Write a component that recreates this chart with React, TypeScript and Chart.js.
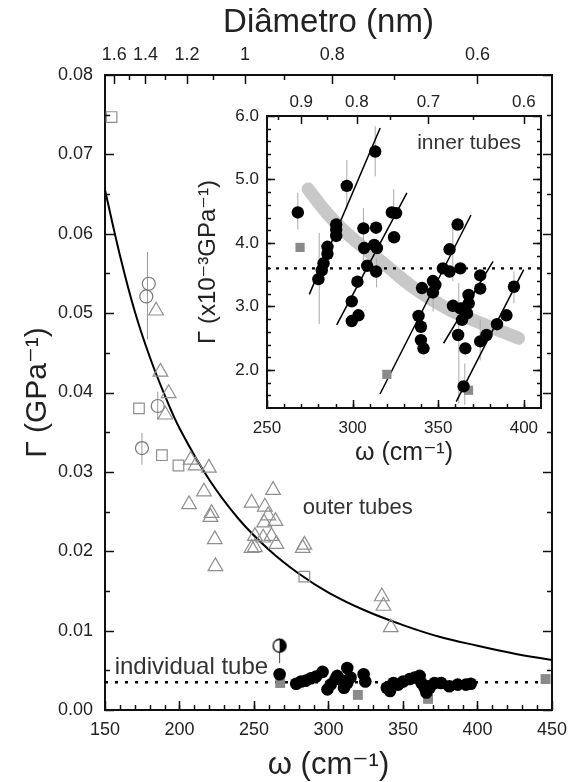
import React, { useEffect, useRef } from 'react';
import { Chart, registerables } from 'chart.js';
Chart.register(...registerables);

const FONT = "'Liberation Sans', Arial, 'DejaVu Sans', sans-serif";
const TXT = '#222';

// ---------- main chart data ----------
const curveW = [150, 160, 170, 180, 190, 200, 220, 240, 260, 280, 300, 325, 350, 375, 400, 425, 450];
const curveG = [0.0655, 0.0573, 0.0502, 0.0445, 0.0397, 0.0355, 0.029, 0.024, 0.0202, 0.0172, 0.0148, 0.0125, 0.0107, 0.0092, 0.0081, 0.0071, 0.0063];

const dottedMainW = [150, 450];
const dottedMainG = [0.0035, 0.0035];

const indW = [267.2, 278.3, 281.6, 284.9, 288.2, 291.6, 296.0, 299.3, 301.5, 304.8, 305.9, 309.2, 310.4, 312.6, 312.6, 314.8, 323.6, 324.7, 339.1, 341.3, 343.6, 346.8, 350.1, 354.6, 357.9, 361.2, 362.4, 364.5, 365.7, 366.8, 367.9, 371.2, 375.6, 381.1, 386.7, 392.2, 395.5];
const indG = [0.0045, 0.0033, 0.0036, 0.0037, 0.004, 0.0042, 0.0048, 0.0026, 0.0032, 0.0039, 0.0043, 0.0037, 0.0028, 0.0053, 0.0034, 0.0041, 0.0045, 0.0036, 0.0028, 0.0024, 0.0034, 0.0032, 0.0036, 0.0039, 0.0041, 0.0043, 0.0034, 0.0028, 0.0022, 0.003, 0.0028, 0.0034, 0.0034, 0.003, 0.0032, 0.0032, 0.0033];

const triW = [184.3, 187.2, 192.7, 190.5, 207.5, 210.8, 219.7, 216.4, 206.4, 221.5, 220.8, 223.7, 224.1, 262.8, 248.4, 257.3, 259.5, 256.8, 264.4, 250.6, 256.2, 261.7, 265.0, 248.4, 250.6, 283.8, 282.7, 335.8, 336.9, 341.8];
const triG = [0.0503, 0.0426, 0.0399, 0.0372, 0.0315, 0.0308, 0.0305, 0.0275, 0.0259, 0.0248, 0.0243, 0.0215, 0.0181, 0.0277, 0.0261, 0.0256, 0.0245, 0.0236, 0.0238, 0.0219, 0.0217, 0.0219, 0.0209, 0.0204, 0.0205, 0.0208, 0.0204, 0.0143, 0.0131, 0.0104];

const sqW = [154.4, 172.8, 188.2, 199.3, 283.8];
const sqG = [0.0747, 0.038, 0.0321, 0.0308, 0.0168];

const circW = [179.4, 177.7, 185.4, 174.8];
const circG = [0.0537, 0.0521, 0.0383, 0.033];

const errW = [178.5, 185.4, 174.8];
const errLo = [0.0467, 0.0366, 0.0309];
const errHi = [0.0577, 0.0401, 0.0349];

const halfW = [267.2];
const halfG = [0.0081];
const halfErrLo = [0.0059];
const halfErrHi = [0.009];

const graySqW = [267.6, 319.7, 366.8, 445.7];
const graySqG = [0.0034, 0.0019, 0.0014, 0.0039];

const omegaTicks = [150, 200, 250, 300, 350, 400, 450];
const gammaTicks = [0, 0.01, 0.02, 0.03, 0.04, 0.05, 0.06, 0.07, 0.08];
const diamMain = [1.6, 1.4, 1.2, 1.0, 0.8, 0.6];
const diamMainText = ['1.6', '1.4', '1.2', '1', '0.8', '0.6'];
const diamMainMinor = [1.5, 1.3, 1.1, 0.9, 0.7];

// ---------- inset data ----------
const inW = [268, 280, 282, 283, 285.3, 285.3, 290.4, 290.4, 290.4, 296.6, 313.2, 306.3, 313.7, 306.7, 312.6, 314.2, 308.5, 313.7, 302.8, 299.5, 299.5, 303.4, 322.9, 325.4, 324.2, 361.3, 356.6, 352.7, 356.6, 362.9, 340.5, 346.9, 348.3, 346.9, 338.5, 339.9, 339.9, 341.4, 358.6, 362.9, 364.8, 367.8, 367.7, 366.8, 363.9, 361.6, 365.8, 364.8, 374.5, 374.5, 374.5, 378.2, 384.3, 389.8, 394.2];
const inG = [4.48, 3.43, 3.57, 3.68, 3.83, 3.94, 4.11, 4.21, 4.29, 4.9, 5.44, 4.23, 4.24, 3.92, 3.97, 3.92, 3.64, 3.55, 3.39, 3.08, 2.77, 2.86, 4.48, 4.47, 4.09, 4.29, 3.9, 3.6, 3.55, 3.6, 3.29, 3.4, 3.34, 3.22, 2.85, 2.68, 2.47, 2.34, 3.01, 2.97, 2.97, 3.05, 3.18, 2.89, 2.79, 2.55, 2.34, 1.74, 3.49, 3.28, 2.45, 2.55, 2.72, 2.86, 3.31];

const inSqW = [269.3, 320, 367.7];
const inSqG = [3.93, 1.93, 1.68];

const fitW0 = [274.7, 290.7, 316, 353.1, 360.5];
const fitG0 = [3.19, 2.71, 1.62, 2.42, 1.5];
const fitW1 = [316.1, 331.7, 369.1, 382, 399.9];
const fitG1 = [5.81, 4.79, 4.44, 3.71, 3.58];

const inErrW = [268, 280.5, 296.6, 313.2, 306.3, 314, 358.5, 362, 365.5, 374.5, 394.2, 347, 324];
const inErrLo = [4.21, 2.72, 4.52, 5.05, 3.55, 3.3, 3.4, 1.47, 1.45, 2.15, 3.05, 2.92, 4.45];
const inErrHi = [4.79, 4.16, 5.31, 5.84, 4.55, 3.75, 4.25, 3.37, 2.1, 2.79, 3.55, 3.31, 4.85];

const bandW = [274, 285, 296.6, 318, 337.5, 357, 376.5, 396.9];
const bandG = [4.85, 4.47, 4.15, 3.68, 3.26, 2.94, 2.72, 2.5];

const dottedInW = [250, 410];
const dottedInG = [3.6, 3.6];

const inOmegaTicks = [250, 300, 350, 400];
const inGammaTicks = [2, 3, 4, 5, 6];
const diamIn = [0.9, 0.8, 0.7, 0.6];
const diamInText = ['0.9', '0.8', '0.7', '0.6'];
const diamInMinor = [0.95, 0.85, 0.75, 0.65];

// RBM relation used for the secondary (diameter) axis
const dToW = (d: number) => 234 / d + 10;

const pts = (xs: number[], ys: number[]) => xs.map((x, i) => ({ x, y: ys[i] }));
const segs = (xs0: number[], ys0: number[], xs1: number[], ys1: number[]) =>
  xs0.flatMap((x, i) => [{ x, y: ys0[i] }, { x: xs1[i], y: ys1[i] }, { x: xs1[i], y: null as any }]);
const range = (a: number, b: number, s: number) => {
  const out: number[] = [];
  for (let v = a; v <= b + 1e-9; v += s) out.push(Math.round(v * 10000) / 10000);
  return out;
};

type TickSpec = { scale: string; side: 'top' | 'bottom' | 'left' | 'right'; values: number[]; len: number };
function tickPlugin(specs: TickSpec[], width: number) {
  return {
    id: 'inwardTicks',
    afterDatasetsDraw(chart: any) {
      const { ctx, chartArea: a, scales } = chart;
      ctx.save();
      ctx.strokeStyle = '#111';
      ctx.lineWidth = width;
      for (const s of specs) {
        const sc = scales[s.scale];
        for (const v of s.values) {
          const p = Math.round(sc.getPixelForValue(v)) + 0.5;
          ctx.beginPath();
          if (s.side === 'bottom') { ctx.moveTo(p, a.bottom); ctx.lineTo(p, a.bottom - s.len); }
          if (s.side === 'top') { ctx.moveTo(p, a.top); ctx.lineTo(p, a.top + s.len); }
          if (s.side === 'left') { ctx.moveTo(a.left, p); ctx.lineTo(a.left + s.len, p); }
          if (s.side === 'right') { ctx.moveTo(a.right, p); ctx.lineTo(a.right - s.len, p); }
          ctx.stroke();
        }
      }
      ctx.restore();
    },
  };
}

type TextItem = { text: string; x: number; y: number; size: number };
function textPlugin(items: TextItem[]) {
  return {
    id: 'textLabels',
    afterDatasetsDraw(chart: any) {
      const { ctx, scales } = chart;
      ctx.save();
      ctx.fillStyle = '#333';
      ctx.textAlign = 'left';
      ctx.textBaseline = 'middle';
      for (const t of items) {
        ctx.font = `${t.size}px ${FONT}`;
        ctx.fillText(t.text, scales.x.getPixelForValue(t.x), scales.y.getPixelForValue(t.y));
      }
      ctx.restore();
    },
  };
}

const whiteArea = {
  id: 'whiteArea',
  beforeDraw(chart: any) {
    const { ctx, chartArea: a } = chart;
    ctx.save();
    ctx.fillStyle = '#fff';
    ctx.fillRect(a.left, a.top, a.right - a.left, a.bottom - a.top);
    ctx.restore();
  },
};

const border = { color: '#111', width: 2 };
const grid = { display: false, drawTicks: false };
const tickFont = (size: number) => ({ family: FONT, size });

function halfCircle(r: number) {
  const c = document.createElement('canvas');
  const s = Math.ceil(2 * r + 3);
  c.width = s; c.height = s;
  const g = c.getContext('2d')!;
  g.fillStyle = '#fff';
  g.beginPath(); g.arc(s / 2, s / 2, r, 0, Math.PI * 2); g.fill();
  g.fillStyle = '#000';
  g.beginPath(); g.arc(s / 2, s / 2, r, -Math.PI / 2, Math.PI / 2); g.closePath(); g.fill();
  g.strokeStyle = '#000'; g.lineWidth = 1.3;
  g.beginPath(); g.arc(s / 2, s / 2, r, 0, Math.PI * 2); g.stroke();
  return c;
}

function mainConfig(): any {
  const gray = '#8f8f8f';
  return {
    type: 'scatter',
    data: {
      datasets: [
        { data: pts(halfW, halfG), pointStyle: halfCircle(6.5), pointRadius: 7, order: 0 },
        { data: pts(indW, indG), pointStyle: 'circle', pointRadius: 6.3, backgroundColor: '#000', borderColor: '#000', borderWidth: 0, order: 1 },
        { data: pts(graySqW, graySqG), pointStyle: 'rect', pointRadius: 7, backgroundColor: '#8a8a8a', borderColor: '#8a8a8a', borderWidth: 0, order: 2 },
        { data: pts(triW, triG), pointStyle: 'triangle', pointRadius: 8.5, backgroundColor: 'rgba(0,0,0,0)', borderColor: gray, borderWidth: 1.2, order: 3 },
        { data: pts(sqW, sqG), pointStyle: 'rect', pointRadius: 7.5, backgroundColor: 'rgba(0,0,0,0)', borderColor: gray, borderWidth: 1.2, order: 4 },
        { data: pts(circW, circG), pointStyle: 'circle', pointRadius: 6.5, backgroundColor: 'rgba(0,0,0,0)', borderColor: '#777', borderWidth: 1.2, order: 5 },
        { data: segs(errW, errLo, errW, errHi), showLine: true, spanGaps: false, pointRadius: 0, borderColor: '#999', borderWidth: 1, order: 6 },
        { data: segs(halfW, halfErrLo, halfW, halfErrHi), showLine: true, spanGaps: false, pointRadius: 0, borderColor: '#444', borderWidth: 1, order: 6 },
        { data: pts(curveW, curveG), showLine: true, pointRadius: 0, borderColor: '#000', borderWidth: 2, tension: 0.4, order: 7 },
        { data: pts(dottedMainW, dottedMainG), showLine: true, pointRadius: 0, borderColor: '#000', borderWidth: 2.5, borderDash: [3, 7], order: 8 },
      ],
    },
    options: {
      responsive: false,
      animation: false,
      devicePixelRatio: 1,
      layout: { padding: 0 },
      plugins: { legend: { display: false }, tooltip: { enabled: false } },
      scales: {
        x: {
          type: 'linear', position: 'bottom', min: 150, max: 450,
          grid, border,
          afterBuildTicks: (s: any) => { s.ticks = omegaTicks.map((v) => ({ value: v })); },
          ticks: { font: tickFont(18), color: TXT, padding: 9, autoSkip: false, maxRotation: 0 },
          title: { display: true, text: 'ω (cm⁻¹)', font: { family: FONT, size: 31, lineHeight: 1 }, color: TXT, padding: { top: 0, bottom: 1 } },
          afterFit: (s: any) => { s.height = 72; },
        },
        xTop: {
          type: 'linear', position: 'top', min: 150, max: 450,
          grid, border,
          afterBuildTicks: (s: any) => { s.ticks = diamMain.map((d) => ({ value: dToW(d) })); },
          ticks: { font: tickFont(18), color: TXT, padding: 9, autoSkip: false, maxRotation: 0, callback: (_v: any, i: number) => diamMainText[i] },
          title: { display: true, text: 'Diâmetro (nm)', font: { family: FONT, size: 33, lineHeight: 1 }, color: TXT, padding: { top: 6, bottom: 0 } },
          afterFit: (s: any) => { s.height = 75; },
        },
        y: {
          type: 'linear', position: 'left', min: 0, max: 0.08,
          grid, border,
          afterBuildTicks: (s: any) => { s.ticks = gammaTicks.map((v) => ({ value: v })); },
          ticks: { font: tickFont(18), color: TXT, padding: 12, autoSkip: false, callback: (v: any) => Number(v).toFixed(2) },
          title: { display: true, text: 'Γ (GPa⁻¹)', font: { family: FONT, size: 30, lineHeight: 1 }, color: TXT, padding: { top: 23, bottom: 0 } },
          afterFit: (s: any) => { s.width = 105; },
        },
        yRight: {
          type: 'linear', position: 'right', min: 0, max: 0.08,
          grid, border,
          ticks: { display: false },
          afterFit: (s: any) => { s.width = 19; },
        },
      },
    },
    plugins: [
      tickPlugin([
        { scale: 'x', side: 'bottom', values: omegaTicks, len: 9 },
        { scale: 'x', side: 'bottom', values: range(160, 440, 10), len: 5 },
        { scale: 'xTop', side: 'top', values: diamMain.map(dToW), len: 9 },
        { scale: 'xTop', side: 'top', values: diamMainMinor.map(dToW), len: 5 },
        { scale: 'y', side: 'left', values: gammaTicks, len: 9 },
        { scale: 'y', side: 'left', values: range(0.005, 0.075, 0.01), len: 5 },
        { scale: 'yRight', side: 'right', values: gammaTicks, len: 9 },
        { scale: 'yRight', side: 'right', values: range(0.005, 0.075, 0.01), len: 5 },
      ], 1.5),
      textPlugin([
        { text: 'individual tube', x: 156.5, y: 0.0054, size: 24 },
        { text: 'outer tubes', x: 282.7, y: 0.0254, size: 22 },
      ]),
    ],
  };
}

function insetConfig(): any {
  return {
    type: 'scatter',
    data: {
      datasets: [
        { data: pts(inW, inG), pointStyle: 'circle', pointRadius: 6.2, backgroundColor: '#000', borderColor: '#000', borderWidth: 0, order: 0 },
        { data: pts(inSqW, inSqG), pointStyle: 'rect', pointRadius: 6.5, backgroundColor: '#8a8a8a', borderColor: '#8a8a8a', borderWidth: 0, order: 1 },
        { data: segs(fitW0, fitG0, fitW1, fitG1), showLine: true, spanGaps: false, pointRadius: 0, borderColor: '#000', borderWidth: 1.5, order: 2 },
        { data: segs(inErrW, inErrLo, inErrW, inErrHi), showLine: true, spanGaps: false, pointRadius: 0, borderColor: '#aaa', borderWidth: 1, order: 3 },
        { data: pts(dottedInW, dottedInG), showLine: true, pointRadius: 0, borderColor: '#000', borderWidth: 2.2, borderDash: [3, 6], order: 4 },
        { data: pts(bandW, bandG), showLine: true, pointRadius: 0, borderColor: '#c8c8c8', borderWidth: 13, borderCapStyle: 'round', tension: 0.4, order: 5 },
      ],
    },
    options: {
      responsive: false,
      animation: false,
      devicePixelRatio: 1,
      layout: { padding: 0 },
      plugins: { legend: { display: false }, tooltip: { enabled: false } },
      scales: {
        x: {
          type: 'linear', position: 'bottom', min: 250, max: 410,
          grid, border,
          afterBuildTicks: (s: any) => { s.ticks = inOmegaTicks.map((v) => ({ value: v })); },
          ticks: { font: tickFont(17), color: TXT, padding: 10, autoSkip: false, maxRotation: 0 },
          title: { display: true, text: 'ω (cm⁻¹)', font: { family: FONT, size: 25, lineHeight: 1 }, color: TXT, padding: { top: 0, bottom: 4 } },
          afterFit: (s: any) => { s.height = 62; },
        },
        xTop: {
          type: 'linear', position: 'top', min: 250, max: 410,
          grid, border,
          afterBuildTicks: (s: any) => { s.ticks = diamIn.map((d) => ({ value: dToW(d) })); },
          ticks: { font: tickFont(17), color: TXT, padding: 3, autoSkip: false, maxRotation: 0, callback: (_v: any, i: number) => diamInText[i] },
          afterFit: (s: any) => { s.height = 31; },
        },
        y: {
          type: 'linear', position: 'left', min: 1.4, max: 6.0,
          grid, border,
          afterBuildTicks: (s: any) => { s.ticks = inGammaTicks.map((v) => ({ value: v })); },
          ticks: { font: tickFont(17), color: TXT, padding: 8, autoSkip: false, callback: (v: any) => Number(v).toFixed(1) },
          title: { display: true, text: 'Γ (x10⁻³GPa⁻¹)', font: { family: FONT, size: 24, lineHeight: 1 }, color: TXT, padding: { top: 16, bottom: 0 } },
          afterFit: (s: any) => { s.width = 87; },
        },
        yRight: {
          type: 'linear', position: 'right', min: 1.4, max: 6.0,
          grid, border,
          ticks: { display: false },
          afterFit: (s: any) => { s.width = 19; },
        },
      },
    },
    plugins: [
      whiteArea,
      tickPlugin([
        { scale: 'x', side: 'bottom', values: inOmegaTicks, len: 8 },
        { scale: 'x', side: 'bottom', values: range(260, 400, 10), len: 4 },
        { scale: 'xTop', side: 'top', values: diamIn.map(dToW), len: 8 },
        { scale: 'xTop', side: 'top', values: diamInMinor.map(dToW), len: 4 },
        { scale: 'y', side: 'left', values: inGammaTicks, len: 8 },
        { scale: 'y', side: 'left', values: range(1.6, 5.8, 0.2), len: 4 },
        { scale: 'yRight', side: 'right', values: inGammaTicks, len: 8 },
        { scale: 'yRight', side: 'right', values: range(1.6, 5.8, 0.2), len: 4 },
      ], 1.5),
      textPlugin([{ text: 'inner tubes', x: 337.7, y: 5.57, size: 21 }]),
    ],
  };
}

export default function App() {
  const mainRef = useRef<HTMLCanvasElement>(null);
  const insetRef = useRef<HTMLCanvasElement>(null);
  useEffect(() => {
    document.body.style.margin = '0';
    const c1 = new Chart(mainRef.current!, mainConfig());
    const c2 = new Chart(insetRef.current!, insetConfig());
    return () => { c1.destroy(); c2.destroy(); };
  }, []);
  return (
    <div style={{ position: 'relative', width: 576, height: 782, overflow: 'hidden', background: '#fff' }}>
      <canvas ref={mainRef} width={576} height={782} style={{ position: 'absolute', left: 0, top: 0, width: 576, height: 782 }} />
      <canvas ref={insetRef} width={380} height={385} style={{ position: 'absolute', left: 180, top: 85, width: 380, height: 385 }} />
    </div>
  );
}
